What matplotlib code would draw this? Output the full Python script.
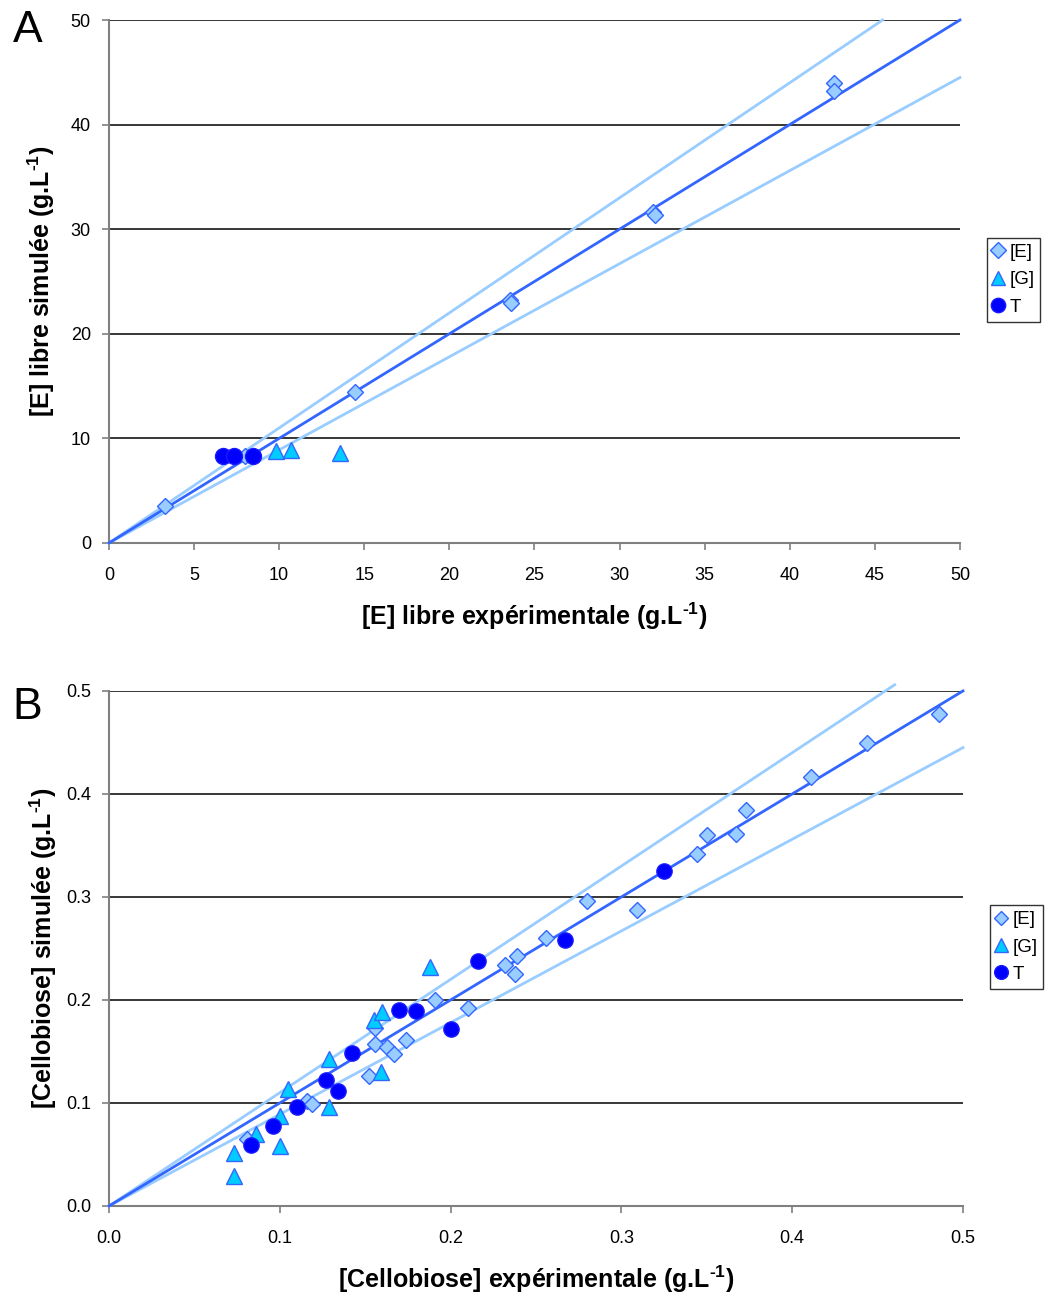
import numpy as np
import matplotlib
matplotlib.use("Agg")
import matplotlib.pyplot as plt

plt.rcParams["font.family"] = ["Liberation Sans", "DejaVu Sans"]
plt.rcParams["mathtext.fontset"] = "custom"
plt.rcParams["mathtext.rm"] = "Liberation Sans"
plt.rcParams["mathtext.bf"] = "Liberation Sans:bold"

# ── panel A: free enzyme ─────────────────────────────────────────────────────
a_E_x = [3.3, 8.0, 14.45, 23.55, 23.6, 31.95, 32.1, 42.6, 42.6]
a_E_y = [3.55, 8.3, 14.45, 23.2, 22.9, 31.6, 31.4, 43.95, 43.25]
a_G_x = [9.8, 10.7, 13.6]
a_G_y = [8.75, 8.9, 8.6]
a_T_x = [6.7, 7.35, 8.45]
a_T_y = [8.27, 8.27, 8.27]

# ── panel B: cellobiose ──────────────────────────────────────────────────────
b_E_x = [0.081, 0.116, 0.119, 0.152, 0.156, 0.156, 0.163, 0.167, 0.174, 0.191,
         0.210, 0.232, 0.238, 0.239, 0.256, 0.280, 0.309, 0.344, 0.350, 0.367,
         0.373, 0.411, 0.444, 0.486]
b_E_y = [0.065, 0.102, 0.099, 0.126, 0.173, 0.157, 0.154, 0.148, 0.161, 0.200,
         0.192, 0.234, 0.225, 0.243, 0.260, 0.296, 0.287, 0.342, 0.360, 0.361,
         0.384, 0.416, 0.449, 0.478]
b_G_x = [0.073, 0.073, 0.086, 0.100, 0.100, 0.105, 0.129, 0.129, 0.155, 0.160,
         0.159, 0.188]
b_G_y = [0.051, 0.029, 0.070, 0.087, 0.058, 0.114, 0.143, 0.096, 0.181, 0.188,
         0.130, 0.232]
b_T_x = [0.083, 0.096, 0.110, 0.127, 0.134, 0.142, 0.170, 0.180, 0.200, 0.216,
         0.267, 0.325]
b_T_y = [0.059, 0.078, 0.096, 0.122, 0.112, 0.149, 0.190, 0.189, 0.172, 0.238,
         0.258, 0.325]

C_LINE = "#3366FF"
C_BAND = "#99CCFF"


def panel(ax, ex, ey, gx, gy, tx, ty, lim, step, fmt, xlabel, ylabel, ms, upper_end):
    # y = x fit line and the +/-10 % band
    ax.plot([0, lim], [0, lim], color=C_LINE, lw=2, zorder=3, clip_on=False)
    ax.plot([0, upper_end], [0, upper_end * 1.1], color=C_BAND, lw=2,
            zorder=2, clip_on=False)
    ax.plot([0, lim], [0, lim * 0.89], color=C_BAND, lw=2, zorder=2, clip_on=False)
    ax.plot(ex, ey, "D", ms=ms, mfc="#99CCFF", mec=C_LINE, mew=1, ls="none",
            label="[E]", zorder=4, clip_on=False)
    ax.plot(gx, gy, "^", ms=ms + 3, mfc="#00CCFF", mec=C_LINE, mew=1, ls="none",
            label="[G]", zorder=4, clip_on=False)
    ax.plot(tx, ty, "o", ms=ms + 3, mfc="#0000FF", mec="#1A1AFF", mew=1, ls="none",
            label="T", zorder=5, clip_on=False)
    ax.set_xlim(0, lim)
    ax.set_ylim(0, lim)
    ticks = np.arange(0, lim + step / 2, step)
    ax.set_xticks(ticks)
    ax.set_yticks(ticks)
    ax.set_xticklabels([fmt.format(t) for t in ticks])
    ax.set_yticklabels([fmt.format(t) for t in ticks])
    ax.yaxis.grid(True, color="black", lw=1.1)
    ax.set_axisbelow(True)
    for s in ("top", "right"):
        ax.spines[s].set_visible(False)
    for s in ("left", "bottom"):
        ax.spines[s].set_color("#808080")
        ax.spines[s].set_linewidth(1.5)
    ax.tick_params(direction="out", length=5, width=1.2, color="#808080",
                   labelsize=13)
    ax.tick_params(axis="x", pad=12)
    ax.tick_params(axis="y", pad=8)
    ax.set_xlabel(xlabel, fontsize=18, fontweight="bold", labelpad=12)
    ax.set_ylabel(ylabel, fontsize=18, fontweight="bold", labelpad=5)


fig = plt.figure(figsize=(10.52, 12.99), dpi=100)
axA = fig.add_axes([0.1036, 0.582, 0.8089, 0.4026])
axB = fig.add_axes([0.1036, 0.0716, 0.8118, 0.3965])

unit = " (g.L$^{\\mathbf{\u20101}}$)"
panel(axA, a_E_x, a_E_y, a_G_x, a_G_y, a_T_x, a_T_y, 50, 5, "{:.0f}",
      "[E] libre expérimentale" + unit, "[E] libre simulée" + unit, 8.5, 50 / 1.1)
axA.set_yticks(np.arange(0, 51, 10))
axA.set_yticklabels([str(v) for v in range(0, 51, 10)])
axA.yaxis.labelpad = 10
panel(axB, b_E_x, b_E_y, b_G_x, b_G_y, b_T_x, b_T_y, 0.5, 0.1, "{:.1f}",
      "[Cellobiose] expérimentale" + unit, "[Cellobiose] simulée" + unit, 8, 0.46)

for ax, anchor in ((axA, (0.938, 0.7845)), (axB, (0.941, 0.271))):
    leg = ax.legend(loc="center left", bbox_to_anchor=anchor,
                    bbox_transform=fig.transFigure, fontsize=13.5, frameon=True,
                    fancybox=False, edgecolor="black", markerscale=0.9,
                    handlelength=0.6, handletextpad=0.3, borderpad=0.3,
                    labelspacing=0.55, borderaxespad=0)
    leg.get_frame().set_linewidth(1.0)

fig.text(0.012, 0.9765, "A", fontsize=32, va="center", ha="left")
fig.text(0.012, 0.455, "B", fontsize=32, va="center", ha="left")

fig.savefig("out.png", dpi=100)
